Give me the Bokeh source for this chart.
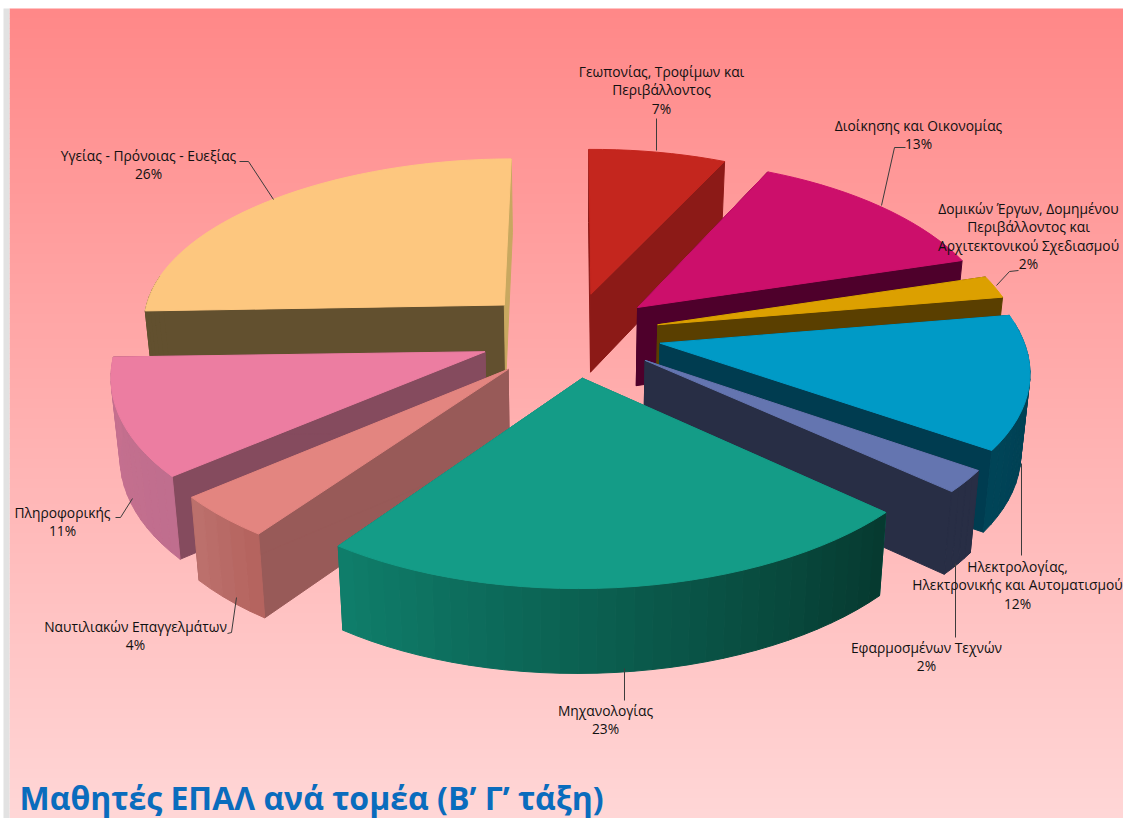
import math
from bokeh.plotting import figure
from bokeh.models import ColumnDataSource, Range1d
from bokeh.core.properties import value
from bokeh.embed import file_html
from bokeh.resources import INLINE

# ---- data ----
sectors = ["Γεωπονίας, Τροφίμων και\nΠεριβάλλοντος", "Διοίκησης και Οικονομίας",
           "Δομικών Έργων, Δομημένου\nΠεριβάλλοντος και\nΑρχιτεκτονικού Σχεδιασμού",
           "Ηλεκτρολογίας,\nΗλεκτρονικής και Αυτοματισμού", "Εφαρμοσμένων Τεχνών", "Μηχανολογίας",
           "Ναυτιλιακών Επαγγελμάτων", "Πληροφορικής", "Υγείας - Πρόνοιας - Ευεξίας"]
shares = [7, 13, 2, 12, 2, 23, 4, 11, 26]
title = "Μαθητές ΕΠΑΛ ανά τομέα (Β’ Γ’ τάξη)"

# ---- styles ----
top_colors = ["#c4261e", "#cc0f6b", "#dca000", "#009ac6", "#6475b0", "#149c87", "#e38580", "#ec7da1", "#fdc77f"]
start_wall = ["#8c1a17", "#4e002b", "#5a3f00", "#003c50", "#282e45", "#0e7a68", "#985a58", "#854b5e", "#62502f"]
end_wall = ["#8c1a17", "#4e002b", "#5a3f00", "#003c50", "#282e45", "#0e7a68", "#985a58", "#854b5e", "#c8a860"]
rim_from = ["#8c1a17", "#4e002b", "#5a3f00", "#003c50", "#282e45", "#063a30", "#b5645f", "#c06e8e", "#62502f"]
rim_to = ["#8c1a17", "#4e002b", "#5a3f00", "#004457", "#282e45", "#0f7d6a", "#bc706c", "#c6708f", "#62502f"]
draw_order = [0, 1, 2, 3, 4, 8, 7, 6, 5]
nudge_x = [0, 0, 0, 0, 0, -3, -5, -4, -4]
nudge_y = [0, 0, 0, 0, 0, 1, 3, 2, 0]
label_x = [661, 918, 1028, 1017, 926, 605, 135, 62, 148]
label_y = [71, 125, 208, 566, 647, 710, 626, 512, 155]
leaders = [[(656, 118), (656, 150)], [(905, 147), (894, 147), (881, 205)],
           [(1018, 270), (1009, 271), (996, 285)], [(1021, 463), (1021, 555)],
           [(955, 563), (955, 637)], [(624, 668), (624, 700)],
           [(236, 597), (231, 632), (227, 633)], [(132, 498), (120, 517), (115, 517)],
           [(239, 161), (248, 161), (273, 199)]]

W, H = 1123, 818
CX, CY, RX, RY, PERSP, EXPLODE, DEPTH = 571.5, 333.5, 364, 172, 0.125, 0.245, 79
SHEAR_X, TILT_Y = 18, 5


def project(u, v, low=False, slice_i=0):
    s = 1 / (1 + PERSP * v)
    x = CX + RX * u * s - SHEAR_X * min(v, 0) ** 2
    y = CY - RY * v * s + TILT_Y * u * (1 - v)
    if low:
        x = CX + (x - CX) * 0.98
        y += DEPTH * (1 - 0.06 * v)
    return x + nudge_x[slice_i], y + nudge_y[slice_i]


def hex_mix(a, b, t):
    ca = [int(a[i:i + 2], 16) for i in (1, 3, 5)]
    cb = [int(b[i:i + 2], 16) for i in (1, 3, 5)]
    return "#%02x%02x%02x" % tuple(round(p + (q - p) * t) for p, q in zip(ca, cb))


p = figure(width=W, height=H, output_backend="svg", toolbar_location=None,
           x_range=Range1d(0, W), y_range=Range1d(H, 0), min_border=0)
p.axis.visible = False
p.grid.visible = False
p.outline_line_color = None

# background gradient
n_b = 162
band = (H - 8) / n_b
tops = [8 + i * band for i in range(n_b)]
p.quad(left=9, right=W, top=tops, bottom=[t + band + 0.6 for t in tops],
       fill_color=[hex_mix("#ff8888", "#ffd6d6", i / (n_b - 1)) for i in range(n_b)], line_color=None)
p.quad(left=[3], right=[9], top=[8], bottom=[H], fill_color="#e2e2e2", line_color=None)

total = sum(shares)
starts, cum = [], 0
for v in shares:
    starts.append(cum / total * 2 * math.pi)
    cum += v

xs, ys, cols = [], [], []


def poly(points, color):
    xs.append([q[0] for q in points])
    ys.append([q[1] for q in points])
    cols.append(color)


for i in draw_order:
    a0 = starts[i]
    a1 = a0 + shares[i] / total * 2 * math.pi
    mid = (a0 + a1) / 2
    ou, ov = EXPLODE * math.sin(mid), EXPLODE * math.cos(mid)
    n = max(4, int((a1 - a0) / math.radians(2.5)))
    angs = [a0 + (a1 - a0) * k / n for k in range(n + 1)]
    rim = [(ou + math.sin(a), ov + math.cos(a)) for a in angs]

    def up(q):
        return project(q[0], q[1], False, i)

    def lo(q):
        return project(q[0], q[1], True, i)

    apex = (ou, ov)
    # radial walls
    for q, c in ((rim[0], start_wall[i]), (rim[-1], end_wall[i])):
        poly([up(apex), up(q), lo(q), lo(apex)], c)
    # outer wall
    for k in range(n):
        if math.cos((angs[k] + angs[k + 1]) / 2) < 0.15:
            c = hex_mix(rim_from[i], rim_to[i], k / max(1, n - 1))
            poly([up(rim[k]), up(rim[k + 1]), lo(rim[k + 1]), lo(rim[k])], c)
    # top face
    poly([up(apex)] + [up(q) for q in rim], top_colors[i])

src = ColumnDataSource(dict(xs=xs, ys=ys, c=cols))
p.patches("xs", "ys", source=src, fill_color="c", line_color="c", line_width=1)

for seg in leaders:
    p.line([q[0] for q in seg], [q[1] for q in seg], line_color="#3c3c3c", line_width=1)

# labels
tx, ty, tt = [], [], []
for name, sh, lx, ly in zip(sectors, shares, label_x, label_y):
    lines = name.split("\n") + [f"{sh}%"]
    for j, line in enumerate(lines):
        tx.append(lx)
        ty.append(ly + j * 18.3)
        tt.append(line)
p.text(tx, ty, text=tt, text_font=value("Open Sans"), text_font_size="13.8px",
       text_align="center", text_baseline="middle", text_color="#111111")

p.text([19], [797], text=[title], text_font=value("Open Sans"), text_font_style="bold",
       text_font_size="32px", text_align="left", text_baseline="middle", text_color="#0a6cbd")

open("out.html", "w").write(file_html(p, INLINE))
